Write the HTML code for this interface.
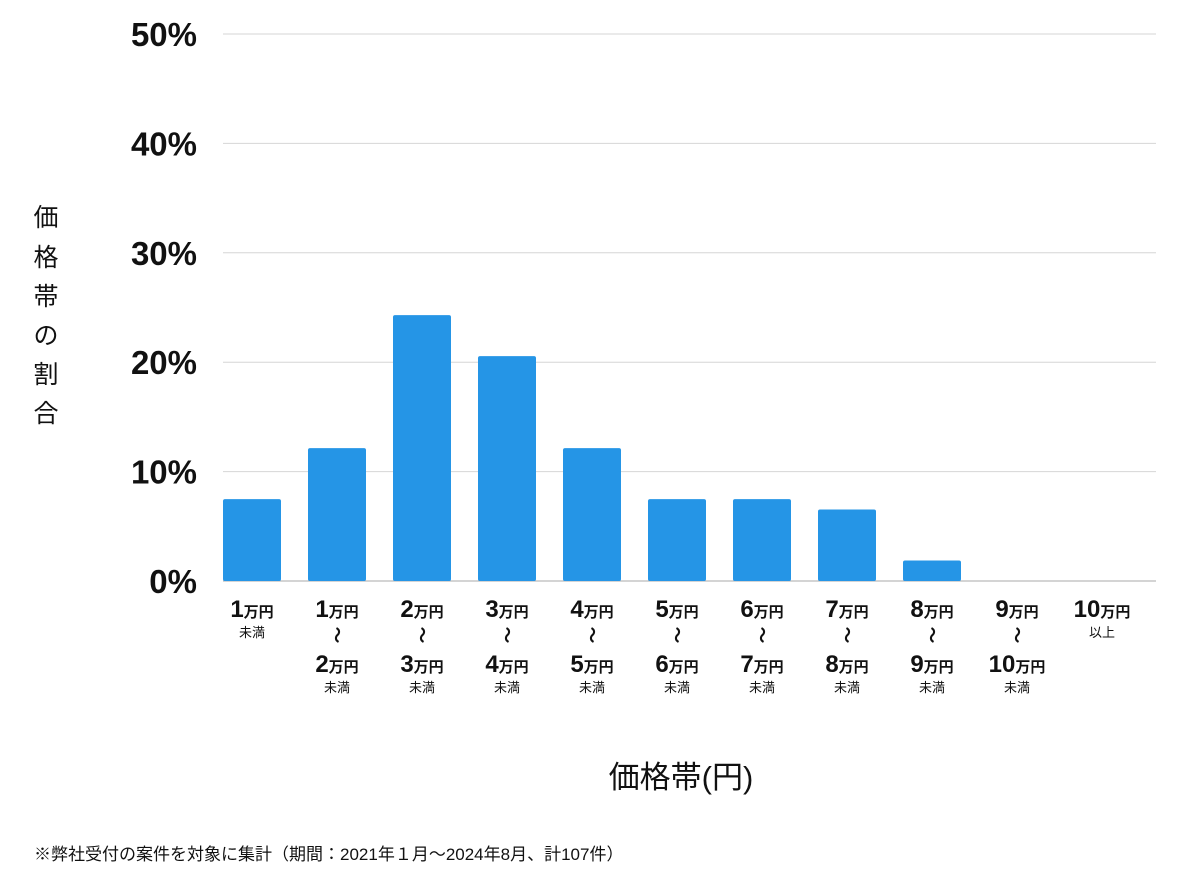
<!DOCTYPE html>
<html><head><meta charset="utf-8"><style>
body{margin:0;background:#fff;}
svg{display:block;font-family:"Liberation Sans","Noto Sans CJK JP",sans-serif;}
</style></head><body>
<svg id="chart" width="1200" height="874" viewBox="0 0 1200 874">
<g id="grid"></g>
<g id="yticks"></g>
<g id="bars"></g>
<g id="xlabels"></g>
<g font-size="25" fill="#111" text-anchor="middle">
<text x="46" y="226">価</text><text x="46" y="266">格</text><text x="46" y="305">帯</text><text x="46" y="344">の</text><text x="46" y="383">割</text><text x="46" y="422">合</text>
</g>
<text x="681" y="788" font-size="31" text-anchor="middle" fill="#111">価格帯(円)</text>
<text x="34" y="860" font-size="17" fill="#111">※弊社受付の案件を対象に集計（期間：2021年１月〜2024年8月、計107件）</text>
</svg>
<script>
const categoriesFrom=["1","1","2","3","4","5","6","7","8","9","10"];
const categoriesTo=["","2","3","4","5","6","7","8","9","10",""];
const values=[7.48,12.15,24.30,20.56,12.15,7.48,7.48,6.54,1.87,0,0];
const yTicks=[0,10,20,30,40,50];
const NS="http://www.w3.org/2000/svg";
const x0=223,slot=85,bw=58,y0=581,yTop=34,yMax=50;
function yScale(v){return y0-(v/yMax)*(y0-yTop);}
function xScale(i){return x0+i*slot;}
function mk(tag,attrs,parent,txt){const e=document.createElementNS(NS,tag);for(const k in attrs)e.setAttribute(k,attrs[k]);if(txt!==undefined)e.textContent=txt;parent.appendChild(e);return e;}
const grid=document.getElementById('grid'),yt=document.getElementById('yticks'),bars=document.getElementById('bars'),xl=document.getElementById('xlabels');
yTicks.forEach(t=>{
  const l=mk('line',{x1:x0,x2:1156,y1:yScale(t),y2:yScale(t),stroke:t===0?'#aaa':'#d6d6d6','stroke-width':1},grid);
  
  
  const tx=mk('text',{x:197,y:yScale(t)+12,'font-size':33,'font-weight':'bold','text-anchor':'end',fill:'#111'},yt,t+'%');
  
  
});
values.forEach((v,i)=>{
  if(v>0){
    const r=mk('rect',{x:xScale(i),y:yScale(v),width:bw,height:y0-yScale(v),fill:'#2595e6',rx:2},bars);
    
    
  }
  const cx=xScale(i)+bw/2;
  const g=mk('g',{'text-anchor':'middle',fill:'#111'},xl);
  
  
  function num(n,y){const t=mk('text',{x:cx,y:y,'font-weight':'bold'},g);mk('tspan',{'font-size':24},t,n);mk('tspan',{'font-size':15},t,'万円');}
  num(categoriesFrom[i],617);
  if(categoriesTo[i]===''){
    mk('text',{x:cx,y:637,'font-size':13},g,i===10?'以上':'未満');
  } else {
    mk('text',{x:cx,y:641,'font-size':17,'font-weight':'bold',transform:'rotate(90 '+cx+' 635)'},g,'〜');
    num(categoriesTo[i],672);
    mk('text',{x:cx,y:692,'font-size':13},g,'未満');
  }
});
</script>
</body></html>
